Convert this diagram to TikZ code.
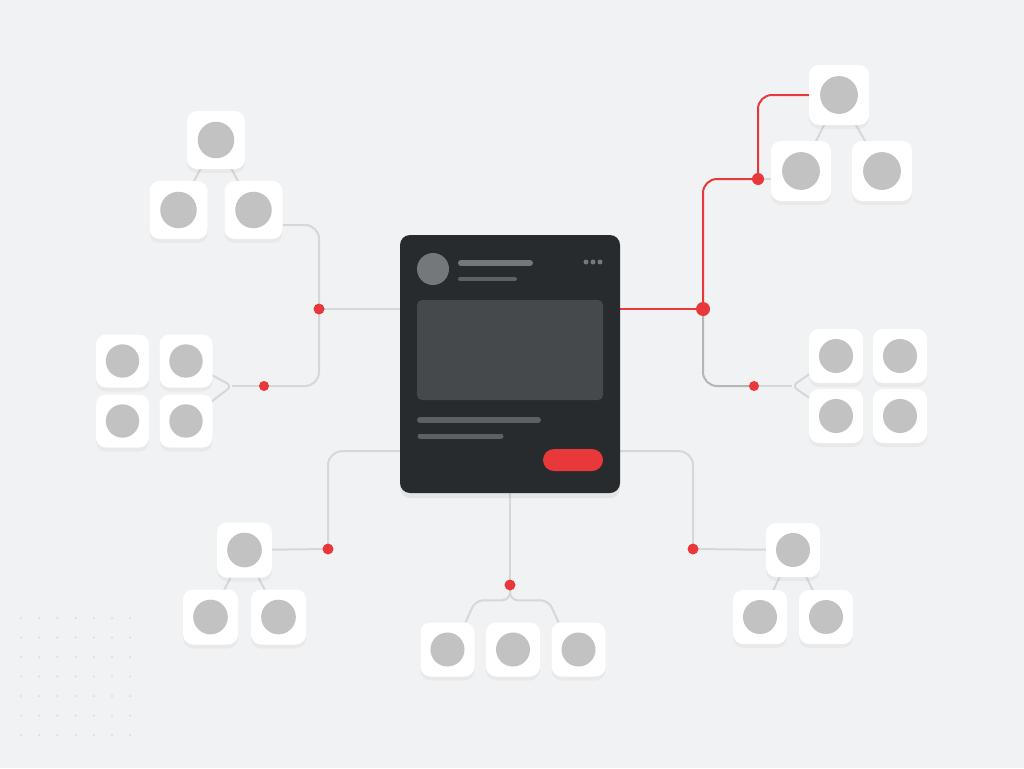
\documentclass[tikz,border=0pt]{standalone}
\usepackage{tikz}
\usetikzlibrary{calc,shadows}

\definecolor{zemin}{HTML}{F1F2F3}
\definecolor{kartrenk}{HTML}{272B2E}
\definecolor{kartgorsel}{HTML}{45494C}
\definecolor{kartsatir}{HTML}{5D6165}
\definecolor{avatar}{HTML}{75787B}
\definecolor{daire}{HTML}{C2C2C2}
\definecolor{baglantirenk}{HTML}{D6D7D9}
\definecolor{koyugri}{HTML}{B4B5B7}
\definecolor{kirmizi}{HTML}{E8383A}
\definecolor{izgara}{HTML}{DCDDDF}

\pgfdeclarelayer{arka}
\pgfsetlayers{arka,main}

\tikzset{
  kutu/.style={fill=white, rounded corners=10pt, minimum size=#1, inner sep=0pt,
    drop shadow={shadow xshift=0pt, shadow yshift=-4pt, opacity=0.07},
    path picture={\fill[daire] (path picture bounding box.center) circle (0.315*#1);}},
  kutu/.default=58pt,
  kartstil/.style={fill=kartrenk, rounded corners=10pt, minimum width=220pt,
    minimum height=258pt, inner sep=0pt,
    drop shadow={shadow xshift=0pt, shadow yshift=-5pt, opacity=0.12}},
  nokta/.style={circle, fill=kirmizi, inner sep=0pt, minimum size=#1},
  nokta/.default=11pt,
  baglanti/.style={draw=baglantirenk, line width=2pt},
  satir/.style={draw=kartsatir, line cap=round}
}

\begin{document}
\begin{tikzpicture}[x=1pt, y=-1pt]
    \useasboundingbox (0,0) rectangle (1024,768);
    \begin{pgfonlayer}{arka}
        \fill[zemin] (0,0) rectangle (1024,768); % zemin
    \end{pgfonlayer}

    % noktali izgara
    \foreach \i in {0,...,6}
        \foreach \j in {0,...,6}
            \fill[izgara] (21+18.2*\i, 618+19.5*\j) circle (1.2);

    % orta kart
    \node[kartstil] (kart) at (510,364) {};
    \fill[avatar] (433,269) circle (16);
    \draw[satir, draw=avatar, line width=6pt] (461,263) -- (530,263);
    \draw[satir, line width=4pt] (460,279) -- (515,279);
    \fill[avatar] (586,262) circle (2.5) (593,262) circle (2.5) (600,262) circle (2.5);
    \fill[kartgorsel, rounded corners=5pt] (417,300) rectangle (603,400);
    \draw[satir, line width=6pt] (420,420) -- (538,420);
    \draw[satir, line width=5pt] (420,436) -- (501,436);
    \fill[kirmizi, rounded corners=11pt] (543,449) rectangle (603,471);

    % sol ust agac
    \node[kutu] (lt1) at (216,140) {};
    \node[kutu] (lt2) at (178.5,210) {};
    \node[kutu] (lt3) at (253.5,210) {};

    % sol izgara
    \node[kutu=53pt] (lg1) at (122.5,361) {};
    \node[kutu=53pt] (lg2) at (186,361) {};
    \node[kutu=53pt] (lg3) at (122.5,421) {};
    \node[kutu=53pt] (lg4) at (186,421) {};

    % sag ust agac
    \node[kutu=60pt] (rt1) at (839,95) {};
    \node[kutu=60pt] (rt2) at (801,171) {};
    \node[kutu=60pt] (rt3) at (882,171) {};

    % sag izgara
    \node[kutu=54pt] (rg1) at (836,356) {};
    \node[kutu=54pt] (rg2) at (900,356) {};
    \node[kutu=54pt] (rg3) at (836,416) {};
    \node[kutu=54pt] (rg4) at (900,416) {};

    % alt agaclar
    \node[kutu=55pt] (bl1) at (244.5,550) {};
    \node[kutu=55pt] (bl2) at (210.5,617) {};
    \node[kutu=55pt] (bl3) at (278.5,617) {};
    \node[kutu=54pt] (bc1) at (447.5,649.5) {};
    \node[kutu=54pt] (bc2) at (513,649.5) {};
    \node[kutu=54pt] (bc3) at (578.5,649.5) {};
    \node[kutu=54pt] (br1) at (793,550) {};
    \node[kutu=54pt] (br2) at (760,617) {};
    \node[kutu=54pt] (br3) at (826,617) {};

    % kirmizi noktalar
    \node[nokta] (d1) at (319,309) {};
    \node[nokta=10pt] (d2) at (264,386) {};
    \node[nokta=14pt] (d3) at (703,309) {};
    \node[nokta=12pt] (d4) at (758,179) {};
    \node[nokta=10pt] (d5) at (754,386) {};
    \node[nokta] (d6) at (328,549) {};
    \node[nokta] (d7) at (510,585) {};
    \node[nokta] (d8) at (693,549) {};
    \coordinate (sl) at (232,386);
    \coordinate (sr) at (792,386);

    % baglantilar
    \begin{pgfonlayer}{arka}
        \draw[baglanti] (lt2.center) -- (lt1.center) -- (lt3.center);
        \draw[baglanti] (rt2.center) -- (rt1.center) -- (rt3.center);
        \draw[baglanti] (bl2.center) -- (bl1.center) -- (bl3.center);
        \draw[baglanti] (br2.center) -- (br1.center) -- (br3.center);

        \draw[baglanti] (kart.west |- d1) -- (d1.center);
        \draw[baglanti, rounded corners=14pt] ($(lt3.east)+(0,15)$) -| (d1.center) |- (d2.center);
        \draw[baglanti] (d2.center) -- (sl);
        \draw[baglanti, rounded corners=6pt] (lg2.center) -- (sl) -- (lg4.center);

        \draw[line width=2pt, kirmizi] (kart.east |- d3) -- (d3.center);
        \draw[line width=2pt, kirmizi, rounded corners=14pt] (d3.center) |- (d4.center);
        \draw[line width=2pt, kirmizi, rounded corners=14pt] (d4.center) |- (rt1.center);
        \draw[baglanti] (d4.center) -- (rt2.west |- d4);

        \draw[line width=2pt, koyugri, rounded corners=14pt] (d3.center) |- (d5.center);
        \draw[baglanti] (d5.center) -- (sr);
        \draw[baglanti, rounded corners=6pt] (rg1.center) -- (sr) -- (rg3.center);

        \draw[baglanti, rounded corners=14pt] ($(kart.south west)+(0,-42)$) -| (d6.center);
        \draw[baglanti] (d6.center) -- (bl1.center);

        \draw[baglanti] (kart.south) -- (d7.center);
        \draw[baglanti, rounded corners=8pt] ($(bc1.north)+(18,0)$) -- ++(10,-22) -| (d7.center);
        \draw[baglanti, rounded corners=8pt] ($(bc3.north)+(-20,0)$) -- ++(-10,-22) -| (d7.center);

        \draw[baglanti, rounded corners=14pt] ($(kart.south east)+(0,-42)$) -| (d8.center);
        \draw[baglanti] (d8.center) -- (br1.center);
    \end{pgfonlayer}
\end{tikzpicture}
\end{document}
